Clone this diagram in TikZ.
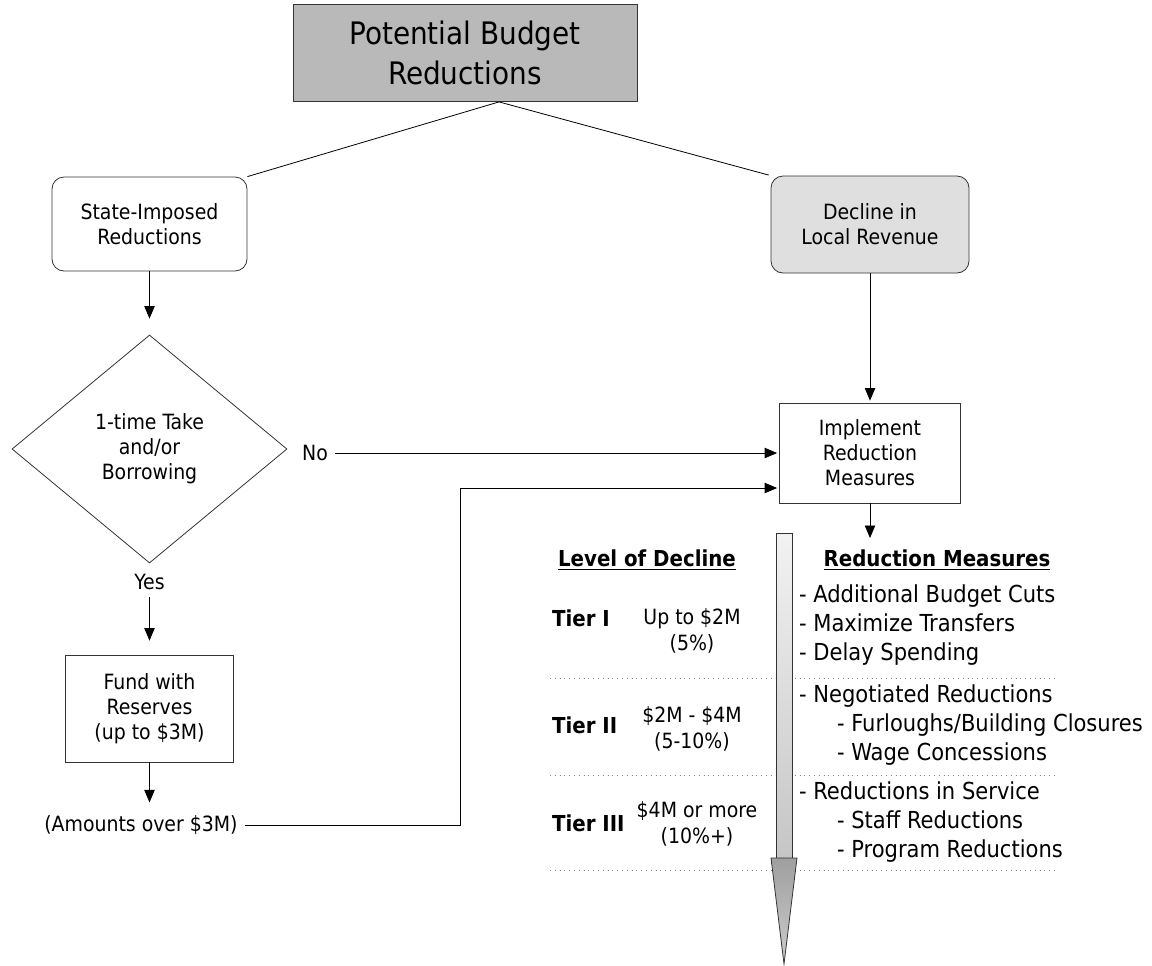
\documentclass[tikz,border=0pt]{standalone}
\usepackage{fontspec}
\setmainfont{DejaVu Sans Condensed}
\usetikzlibrary{shapes.geometric,arrows,positioning}

\begin{document}
\begin{tikzpicture}[x=0.5pt,y=-0.5pt,>=triangle 45,shorten >=1pt,
  every node/.style={font=\fontsize{10.5}{12.5}\selectfont},
  box/.style={draw=black!80,rectangle,align=center,inner sep=2pt},
  soft/.style={box,rounded corners=6pt},
  choice/.style={draw=black!80,diamond,align=center,inner sep=0pt},
  head/.style={font=\fontsize{11}{13}\bfseries\selectfont},
  tier/.style={font=\fontsize{11}{13}\bfseries\selectfont,anchor=west},
  amount/.style={align=center,font=\fontsize{10.5}{13}\selectfont},
  items/.style={align=left,anchor=west,font=\fontsize{11.7}{14.5}\selectfont}]
  \useasboundingbox (0,0) rectangle (1152,965);

  \node[box,fill=gray!55,minimum width=172pt,minimum height=48.5pt,
        font=\fontsize{15.5}{20}\selectfont] (top) at (465,53) {Potential Budget\\Reductions};
  \node[soft,minimum width=97.5pt,minimum height=47pt] (state) at (149.5,224) {State-Imposed\\Reductions};
  \node[soft,fill=gray!25,minimum width=99pt,minimum height=48.5pt] (decline) at (870,224.5) {Decline in\\Local Revenue};
  \node[choice,minimum width=137.5pt,minimum height=114pt] (take) at (149.5,449) {1-time Take\\and/or\\Borrowing};
  \node (yes) at (149.5,582) {Yes};
  \node (no) at (315,453) {No};
  \node[box,minimum width=84pt,minimum height=53.5pt] (fund) at (149.5,708.5) {Fund with\\Reserves\\(up to \$3M)};
  \node (over) at (141,825) {(Amounts over \$3M)};
  \coordinate (turn) at (460,825);
  \node[box,minimum width=90.5pt,minimum height=50pt] (impl) at (870,453) {Implement\\Reduction\\Measures};
  \coordinate (drop) at (870,540);

  \draw (state.north east) -- ([xshift=17pt]top.south) -- (decline.north west);
  \path[->] (state) edge[shorten >=8pt] (take)
            (yes) edge[shorten >=7pt] (fund)
            (decline) edge (impl)
            (no) edge (impl);
  \draw[->,shorten >=3pt] (fund.south) -- (fund.south |- over.north);
  \draw[->] (over) -- (turn) |- ([yshift=-17.5pt]impl.west);
  \draw[->] (impl.south) -- (drop);

  % tiers of decline
  \foreach \y in {678,775,870}
    \draw[dotted,gray] (550,\y) -- (1060,\y);
  \shade[top color=gray!10,bottom color=gray!45,draw=black!80] (776,533) rectangle (792,858);
  \shade[top color=gray!75,bottom color=gray!40,draw=black!80] (771,858) -- (797,858) -- (784,964) -- cycle;

  \node[head] (levhead) at (647,560) {\underline{Level of Decline}};
  \node[head] (meashead) at (937,560) {\underline{Reduction Measures}};
  \node[tier] (t1) at (545,618) {Tier I};
  \node[amount] (a1) at (692,631) {Up to \$2M\\(5\%)};
  \node[tier] (t2) at (545,725) {Tier II};
  \node[amount] (a2) at (692,729) {\$2M - \$4M\\(5-10\%)};
  \node[tier] (t3) at (545,823) {Tier III};
  \node[amount] (a3) at (697,824) {\$4M or more\\(10\%+)};
  \node[items] (m1) at (792,625) {- Additional Budget Cuts\\- Maximize Transfers\\- Delay Spending};
  \node[items] (m2) at (792,725) {- Negotiated Reductions\\\hspace*{19pt}- Furloughs/Building Closures\\\hspace*{19pt}- Wage Concessions};
  \node[items] (m3) at (792,822) {- Reductions in Service\\\hspace*{19pt}- Staff Reductions\\\hspace*{19pt}- Program Reductions};
\end{tikzpicture}
\end{document}
